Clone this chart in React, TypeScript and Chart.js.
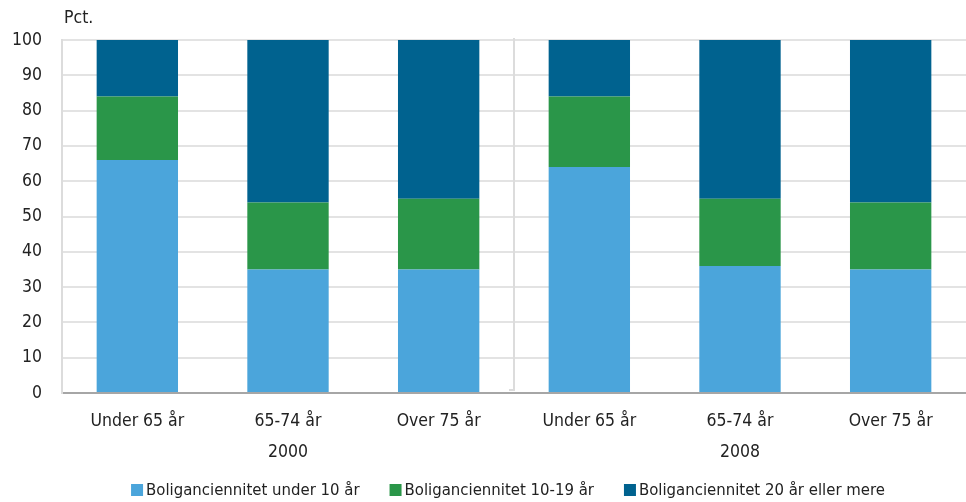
import React, { useEffect, useRef } from "react";
import { Chart, registerables } from "chart.js";

Chart.register(...registerables);

const categories = ["Under 65 år", "65-74 år", "Over 75 år", "Under 65 år", "65-74 år", "Over 75 år"];
const groups = ["2000", "2008"];
const under10 = [66, 35, 35, 64, 36, 35];
const from10to19 = [18, 19, 20, 20, 19, 19];
const over20 = [16, 46, 45, 16, 45, 46];
const seriesNames = ["Boliganciennitet under 10 år", "Boliganciennitet 10-19 år", "Boliganciennitet 20 år eller mere"];
const colors = ["#4ba5db", "#2a9649", "#00628f"];
const FONT = "'DejaVu Sans Condensed', Roboto, sans-serif";

const extras = {
  id: "extras",
  afterDraw(chart: any) {
    const { ctx, chartArea, scales } = chart;
    const x = scales.x;
    ctx.save();
    const mid = (x.getPixelForValue(2) + x.getPixelForValue(3)) / 2;
    ctx.strokeStyle = "#dcdcdc";
    ctx.lineWidth = 2;
    ctx.beginPath();
    ctx.moveTo(mid, chartArea.top - 2);
    ctx.lineTo(mid, chartArea.bottom - 3);
    ctx.lineTo(mid - 5, chartArea.bottom - 3);
    ctx.stroke();
    ctx.fillStyle = "#222";
    ctx.font = `17.5px ${FONT}`;
    ctx.textAlign = "center";
    ctx.textBaseline = "middle";
    ctx.fillText(groups[0], x.getPixelForValue(1), chartArea.bottom + 59);
    ctx.fillText(groups[1], x.getPixelForValue(4), chartArea.bottom + 59);
    ctx.textAlign = "left";
    ctx.fillText("Pct.", 64, 18);

    // legend
    const datasets = chart.data.datasets;
    ctx.font = `16.6px ${FONT}`;
    const box = 12;
    const gapText = 3;
    const gapItem = 30;
    const widths = datasets.map((d: any) => box + gapText + ctx.measureText(d.label).width);
    const total = widths.reduce((a: number, b: number) => a + b, 0) + gapItem * (datasets.length - 1);
    let lx = 508 - total / 2;
    const ly = 490;
    datasets.forEach((d: any, i: number) => {
      ctx.fillStyle = d.backgroundColor;
      ctx.fillRect(lx, ly - box / 2, box, box);
      ctx.fillStyle = "#222";
      ctx.textAlign = "left";
      ctx.fillText(d.label, lx + box + gapText, ly + 1);
      lx += widths[i] + gapItem;
    });
    ctx.restore();
  },
};

export default function App() {
  const ref = useRef<HTMLCanvasElement>(null);
  useEffect(() => {
    document.body.style.margin = "0";
    const chart = new Chart(ref.current!, {
      type: "bar",
      data: {
        labels: categories,
        datasets: [
          { label: seriesNames[0], data: under10, backgroundColor: colors[0] },
          { label: seriesNames[1], data: from10to19, backgroundColor: colors[1] },
          { label: seriesNames[2], data: over20, backgroundColor: colors[2] },
        ],
      },
      options: {
        animation: false,
        responsive: false,
        maintainAspectRatio: false,
        layout: { padding: { top: 40, right: 0, left: 0, bottom: 37 } },
        datasets: { bar: { categoryPercentage: 1, barPercentage: 0.54 } },
        plugins: {
          legend: { display: false },
          tooltip: { enabled: false },
        },
        scales: {
          x: {
            stacked: true,
            grid: { display: false, drawTicks: false },
            border: { color: "#a6a6a6", width: 2 },
            ticks: { color: "#222", font: { family: FONT, size: 17.5 }, padding: 18 },
            afterFit: (s: any) => {
              s.height = 72;
            },
          },
          y: {
            stacked: true,
            min: 0,
            max: 100,
            ticks: { stepSize: 10, color: "#222", font: { family: FONT, size: 17.5 }, padding: 20 },
            grid: { color: "#e3e3e3", lineWidth: 2, drawTicks: false },
            border: { color: "#dcdcdc", width: 2 },
            afterFit: (s: any) => {
              s.width = 62;
            },
          },
        },
      },
      plugins: [extras],
    });
    return () => chart.destroy();
  }, []);
  return (
    <div style={{ width: 966, height: 502 }}>
      <canvas ref={ref} width={966} height={502} style={{ display: "block" }} />
    </div>
  );
}
